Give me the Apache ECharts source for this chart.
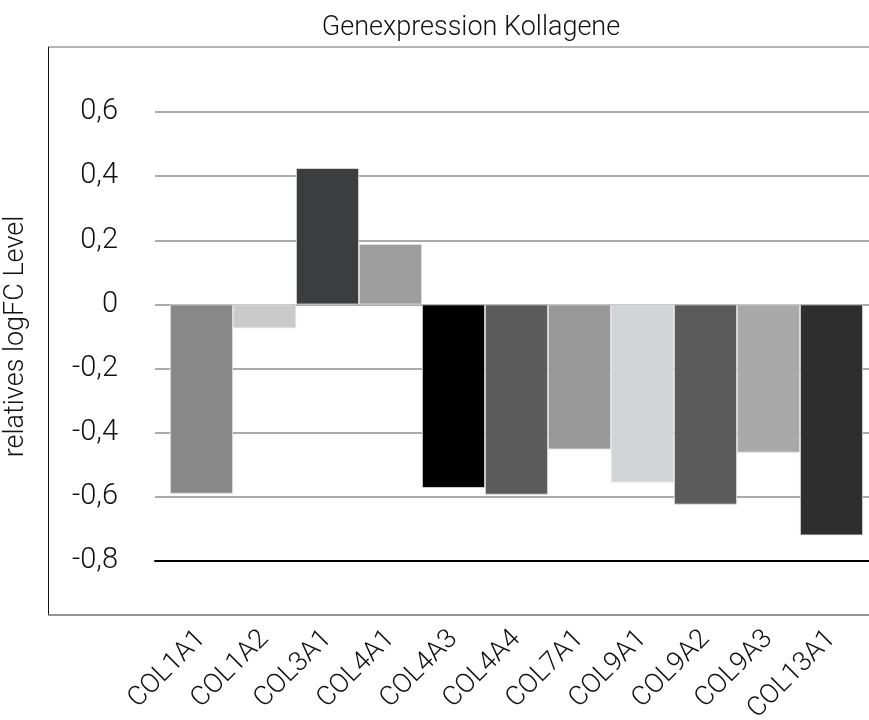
<!DOCTYPE html>
<html>
<head>
<meta charset="utf-8">
<script src="https://cdn.jsdelivr.net/npm/echarts@6/dist/echarts.min.js"></script>
<style>
  html, body { margin: 0; padding: 0; background: #fff; }
  #chart { width: 869px; height: 720px; }
</style>
</head>
<body>
<div id="chart"></div>
<script>
// Collagen genes and their relative logFC expression levels
const genes = ['COL1A1', 'COL1A2', 'COL3A1', 'COL4A1', 'COL4A3', 'COL4A4', 'COL7A1', 'COL9A1', 'COL9A2', 'COL9A3', 'COL13A1'];
const logFC = [-0.59, -0.074, 0.425, 0.188, -0.572, -0.593, -0.452, -0.555, -0.624, -0.462, -0.72];
const barColors = ['#878887', '#c9cac9', '#3c3d3f', '#9c9d9c', '#000000', '#5c5c5c', '#979897', '#d2d5d6', '#5b5b5b', '#a9a9a9', '#2e2e2e'];
const yTicks = [-0.8, -0.6, -0.4, -0.2, 0, 0.2, 0.4, 0.6];
const yTickLabels = ['-0,8', '-0,6', '-0,4', '-0,2', '0', '0,2', '0,4', '0,6'];

const FONT = 'Roboto';
const chart = echarts.init(document.getElementById('chart'), null, { renderer: 'canvas' });

function tickLabel(v) {
  const i = yTicks.findIndex(t => Math.abs(t - v) < 1e-9);
  return i >= 0 ? yTickLabels[i] : '';
}

chart.setOption({
  animation: false,
  backgroundColor: '#ffffff',
  title: {
    text: 'Genexpression Kollagene',
    left: 466, top: 10, textAlign: 'center',
    textStyle: { fontFamily: FONT, fontWeight: 300, fontSize: 27, color: '#111' }
  },
  graphic: [
    { type: 'line', shape: { x1: 48, y1: 47, x2: 869, y2: 47 }, style: { stroke: '#9a9a9a', lineWidth: 1.5 } },
    { type: 'line', shape: { x1: 48.5, y1: 47, x2: 48.5, y2: 615 }, style: { stroke: '#111', lineWidth: 1 } },
    { type: 'line', shape: { x1: 48, y1: 615, x2: 869, y2: 615 }, style: { stroke: '#6f6f6f', lineWidth: 1.5 } }
  ],
  grid: [
    { left: 155, right: 0, top: 112, bottom: 159, containLabel: false, outerBoundsMode: 'none' },
    { left: 170, right: 6, top: 112, bottom: 159, containLabel: false, outerBoundsMode: 'none' }
  ],
  xAxis: [
    {
      gridIndex: 0, type: 'category', data: [''],
      axisLine: { show: true, onZero: false, lineStyle: { color: '#000', width: 2 } },
      axisTick: { show: false }, axisLabel: { show: false }, splitLine: { show: false }
    },
    {
      gridIndex: 1, type: 'category', data: genes,
      axisLine: { show: false }, axisTick: { show: false },
      axisLabel: {
        interval: 0, rotate: 45, margin: 74,
        fontFamily: FONT, fontWeight: 300, fontSize: 27, color: '#111'
      }
    }
  ],
  yAxis: [
    {
      gridIndex: 0, type: 'value', min: -0.8, max: 0.6, interval: 0.2,
      name: 'relatives logFC Level', nameLocation: 'middle', nameRotate: 90, nameGap: 125,
      nameTextStyle: { fontFamily: FONT, fontWeight: 300, fontSize: 27, color: '#111' },
      axisLine: { show: false }, axisTick: { show: false },
      axisLabel: {
        margin: 37, formatter: tickLabel,
        fontFamily: FONT, fontWeight: 300, fontSize: 29, color: '#111'
      },
      splitLine: { show: true, lineStyle: { color: '#ababab', width: 2 } }
    },
    {
      gridIndex: 1, type: 'value', min: -0.8, max: 0.6, interval: 0.2,
      axisLine: { show: false }, axisTick: { show: false }, axisLabel: { show: false },
      splitLine: { show: false }
    }
  ],
  series: [{
    type: 'bar',
    xAxisIndex: 1, yAxisIndex: 1,
    barCategoryGap: '0%',
    data: logFC.map((v, i) => ({ value: v, itemStyle: { color: barColors[i] } })),
    itemStyle: { borderColor: '#e2e2e2', borderWidth: 0.8 },
    z: 3
  }]
});
</script>
</body>
</html>
